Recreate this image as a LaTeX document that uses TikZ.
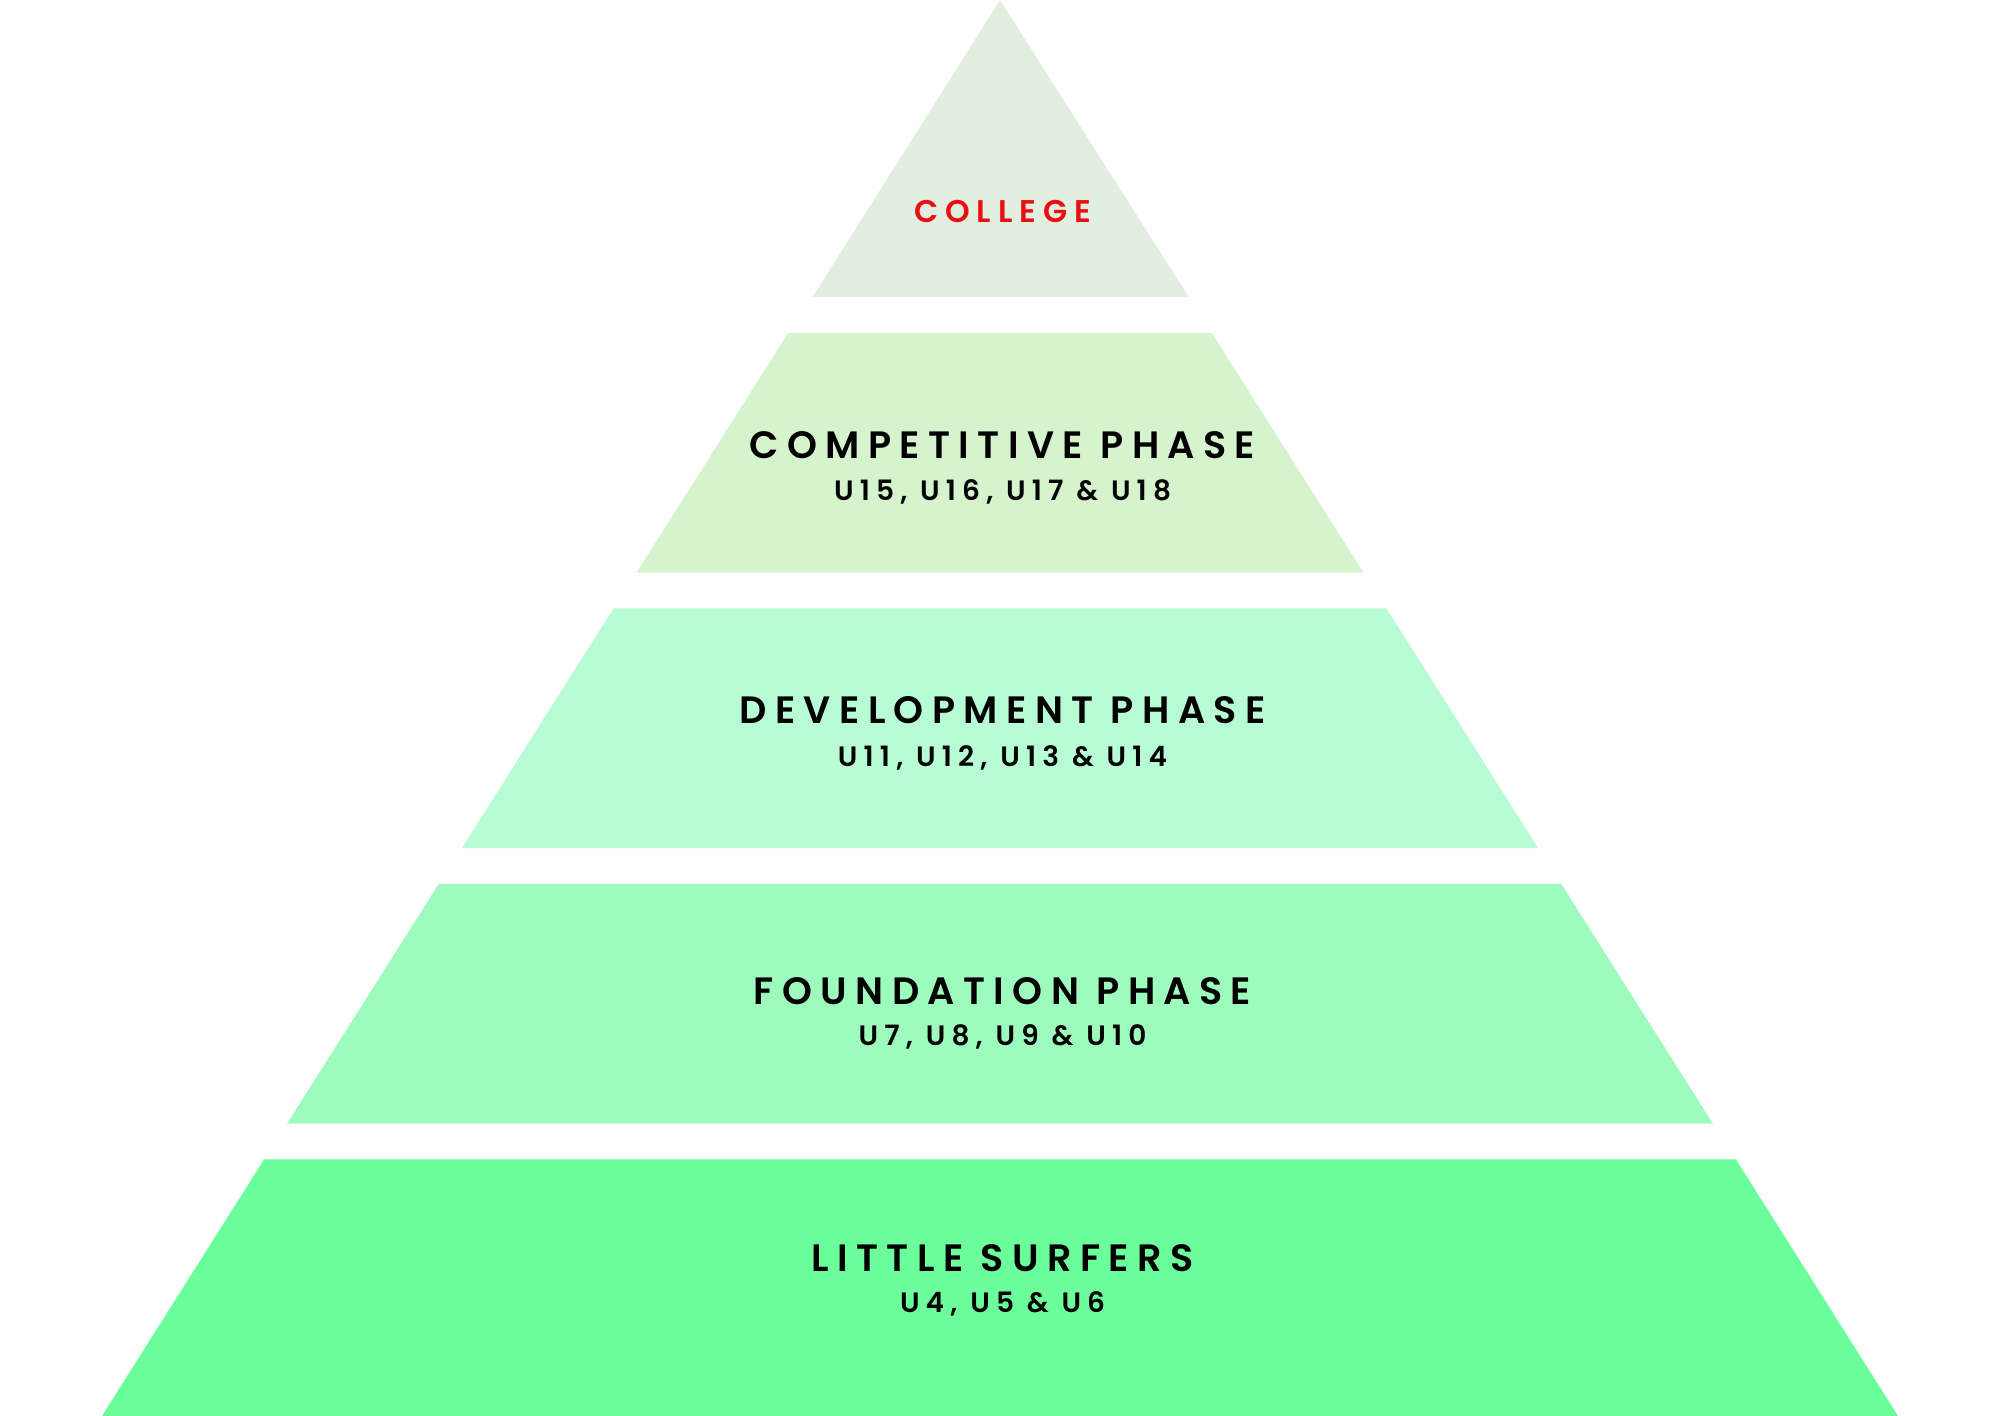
\documentclass[tikz,border=0pt]{standalone}
\usepackage{fontspec}
\setmainfont{Poppins}[LetterSpace=22,UprightFont=*-SemiBold,BoldFont=*-Bold]
\begin{document}
\begin{tikzpicture}[x=0.02cm,y=-0.02cm]
\definecolor{c1}{HTML}{E2EEDF}
\definecolor{c2}{HTML}{D5F4CD}
\definecolor{c3}{HTML}{B8FCD6}
\definecolor{c4}{HTML}{9DFCBD}
\definecolor{c5}{HTML}{6BFE9B}
\definecolor{red1}{HTML}{E81010}
\tikzset{ttl/.style={font=\fontsize{17}{20}\selectfont, text=black, inner sep=0pt},
 sub/.style={font=\fontsize{12.5}{15}\selectfont, text=black, inner sep=0pt}}
\useasboundingbox (0,0) rectangle (1568,1110);
\fill[c1] (784,0) -- (932,233) -- (637,233) -- cycle;
\fill[c2] (618,261) -- (950,261) -- (1069,449) -- (499,449) -- cycle;
\fill[c3] (481,477) -- (1087,477) -- (1206,665) -- (362,665) -- cycle;
\fill[c4] (344,693) -- (1224,693) -- (1343,881) -- (225,881) -- cycle;
\fill[c5] (207,909) -- (1361,909) -- (1488,1110) -- (80,1110) -- cycle;
\node[sub, text=red1, font=\fontsize{14}{16}\selectfont] (college) at (786,166) {COLLEGE};
\node[ttl] (comp) at (786,349) {COMPETITIVE PHASE};
\node[sub] (comps) at (786,386) {U15, U16, U17 \& U18};
\node[ttl] (dev) at (786,557) {DEVELOPMENT PHASE};
\node[sub] (devs) at (786,594) {U11, U12, U13 \& U14};
\node[ttl] (fnd) at (786,777) {FOUNDATION PHASE};
\node[sub] (fnds) at (786,813) {U7, U8, U9 \& U10};
\node[ttl] (lit) at (786,986) {LITTLE SURFERS};
\node[sub] (lits) at (786,1022) {U4, U5 \& U6};
\end{tikzpicture}
\end{document}
